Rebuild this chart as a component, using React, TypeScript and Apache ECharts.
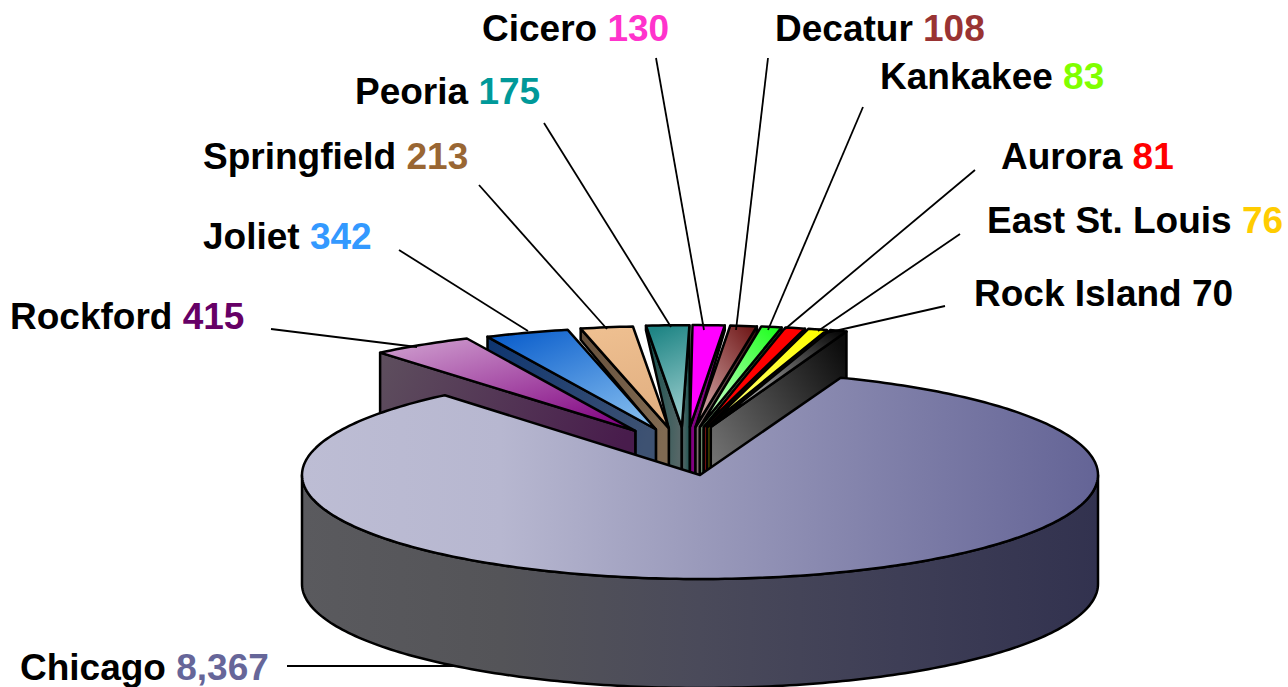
import React, { useEffect, useRef } from "react";
import * as echarts from "echarts";

// Data, in the pie's order starting from its right-hand narrow slice
const cities = ["Rock Island", "East St. Louis", "Aurora", "Kankakee", "Decatur", "Cicero", "Peoria", "Springfield", "Joliet", "Rockford", "Chicago"];
const population = [70, 76, 81, 83, 108, 130, 175, 213, 342, 415, 8367];
const valueColors = ["#000000", "#FFCC00", "#FF0000", "#80FF00", "#993333", "#FF33CC", "#009999", "#996633", "#3399FF", "#660066", "#666699"];

// Top surface gradient [far, near apex]
const topFar = ["#0a0a0a", "#FFFF00", "#FF0000", "#20FF20", "#701818", "#FF00FF", "#1F8585", "#EEBF90", "#0C5FCC", "#CC99CC"];
const topNear = ["#E0E0E0", "#FFFF80", "#FF0000", "#D8FFD8", "#D8B0B0", "#FF00FF", "#A0D0D0", "#E0AE80", "#88C0F0", "#800080"];
// Side wall gradient
const wallFar = ["#0c0c0c", "#777700", "#800000", "#107010", "#3a1010", "#800080", "#0F4F4C", "#66503C", "#0E3570", "#5E4F5E"];
const wallNear = ["#787878", "#999900", "#701010", "#80A080", "#807070", "#800080", "#556666", "#806A52", "#3E5272", "#481C4C"];
// Big slice, left to right
const mainTopStops = ["#BDBDD4", "#B7B7D0", "#9A9ABB", "#7E7EA8", "#646496"];
const mainWallStops = ["#5A5A5E", "#545458", "#4A4A5A", "#3E3E56", "#32324F"];

// Layout of the drawing
const CX = 700, CY = 475, RX = 398, RY_MAIN = 104, RY_SLICE = 102, DEPTH = 109, START = 69.3;
const FONT = "'Liberation Sans', Arial, sans-serif";
const FONT_SIZE = 37;
const labelAnchors = [
  [974, 293], [987, 220], [1001, 156], [880, 76], [775, 28], [482, 28], [355, 91], [203, 156], [203, 236], [10, 316], [20, 667],
];
const leaders = [
  [[945, 306], [826, 333]], [[960, 234], [818, 331]], [[975, 170], [785, 329]], [[863, 107], [768, 330]],
  [[768, 58], [736, 330]], [[656, 58], [704, 330]], [[544, 123], [671, 327]], [[479, 185], [607, 329]],
  [[399, 250], [528, 331]], [[271, 329], [417, 347]], [[287, 666], [470, 666]],
];

const total = population.reduce((a, b) => a + b, 0);
const angles: number[][] = [];
population.reduce((acc, v, i) => {
  const next = acc + (v / total) * 360;
  angles[i] = [acc, next];
  return next;
}, START);

const rad = (d: number) => (d * Math.PI) / 180;
const arcPoint = (ax: number, ay: number, ry: number, t: number, drop = 0) => [
  ax + RX * Math.cos(rad(t)),
  ay - ry * Math.sin(rad(t)) + drop,
];
const arc = (ax: number, ay: number, ry: number, a: number, b: number, drop = 0) => {
  const n = Math.max(2, Math.ceil(Math.abs(b - a)));
  const pts = [];
  for (let k = 0; k <= n; k++) pts.push(arcPoint(ax, ay, ry, a + ((b - a) * k) / n, drop));
  return pts;
};
const grad = (x: number, y: number, x2: number, y2: number, c1: string, c2: string) =>
  new echarts.graphic.LinearGradient(x, y, x2, y2, [
    { offset: 0, color: c1 },
    { offset: 1, color: c2 },
  ]);
const gradStops = (cs: string[]) =>
  new echarts.graphic.LinearGradient(0, 0, 1, 0, cs.map((color, k) => ({ offset: k / (cs.length - 1), color })));
const lineStyle = { stroke: "#000", lineWidth: 2.5, lineJoin: "round" };

const midOf = (i: number) => (angles[i][0] + angles[i][1]) / 2;
// Where a slice's far arc is measured from
const apexX = (i: number) => {
  const m = midOf(i);
  return CX - 1.3 * (m - 75) - Math.max(0, m - 115) * 0.4 + (m > 90 && m < 96 ? 4 : 0);
};
// Where a slice's point actually falls; the narrow slices meet slightly further right
const tipX = (i: number) => apexX(i) + (midOf(i) < 90 ? 5 : 0);
const apexY = (i: number) => CY - 48 + Math.max(0, midOf(i) - 90) * 0.12;
const lastSlice = population.length - 2;

// Draw central slices first, outer ones over them, and the big slice last
const drawOrder = population
  .map((_, i) => i)
  .slice(0, -1)
  .sort((a, b) => Math.abs(midOf(a) - 90) - Math.abs(midOf(b) - 90))
  .concat(population.length - 1);

const renderPiece = (_: any, api: any) => {
  const i = api.value(0);
  const [a, b] = angles[i];
  const children: any[] = [];
  if (i === population.length - 1) {
    const front = arc(CX, CY, RY_MAIN, 180, 360);
    const frontLow = arc(CX, CY, RY_MAIN, 360, 180, DEPTH);
    children.push({
      type: "polygon",
      shape: { points: [...front, ...frontLow] },
      style: { ...lineStyle, fill: gradStops(mainWallStops) },
    });
    children.push({
      type: "polygon",
      shape: { points: [[CX, CY], ...arc(CX, CY, RY_MAIN, a, b)] },
      style: { ...lineStyle, fill: gradStops(mainTopStops) },
    });
    return { type: "group", children };
  }
  const mid = midOf(i);
  const ax = apexX(i);
  const tx = tipX(i);
  const ay = apexY(i);
  const wall = (t: number, gx: number, neighbour: number) => {
    const o = arcPoint(ax, ay, RY_SLICE, t);
    const outermost = neighbour < 0 || neighbour > lastSlice;
    const pts = outermost
      ? [o, [tx, ay], [tx, ay + DEPTH], [o[0], o[1] + DEPTH]]
      : [
          o,
          [tx, ay],
          [tx, ay + DEPTH],
          [tipX(neighbour), ay + DEPTH],
          [tipX(neighbour), ay + 2],
          [o[0], o[1] + Math.abs(Math.cos(rad(t))) * 50],
        ];
    const fill = i === 0
      ? grad(0.9, 0, 0.1, 0.8, wallFar[i], wallNear[i])
      : grad(gx, 0, 1 - gx, 0.35, wallFar[i], wallNear[i]);
    return { type: "polygon", shape: { points: pts }, style: { ...lineStyle, fill } };
  };
  if (b > 90) children.push(wall(b, 0, i + 1));
  if (a < 90) children.push(wall(a, 1, i - 1));
  const dir = mid > 100 ? [0.15, 0, 0.9, 1] : mid < 85 ? [0.9, 0, 0.1, 1] : [0.4, 0, 0.6, 1];
  children.push({
    type: "polygon",
    shape: { points: [[tx, ay], ...arc(ax, ay, RY_SLICE, a, b)] },
    style: { ...lineStyle, fill: grad(dir[0], dir[1], dir[2], dir[3], topFar[i], topNear[i]) },
  });
  return { type: "group", children };
};

export default function App() {
  const ref = useRef<HTMLDivElement>(null);
  useEffect(() => {
    document.body.style.margin = "0";
    const chart = echarts.init(ref.current!, undefined, { renderer: "svg" });
    const last = cities.length - 1;
    const lineEls = leaders.map((l, i) => ({
      type: "line",
      z: i === last ? 0 : 20,
      shape: { x1: l[0][0], y1: l[0][1], x2: l[1][0], y2: l[1][1] },
      style: { stroke: "#000", lineWidth: 1.8 },
    }));
    const labelEls = cities.map((c, i) => ({
      type: "text",
      z: 30,
      x: labelAnchors[i][0],
      y: labelAnchors[i][1],
      style: {
        text: `{n|${c} }{v|${population[i].toLocaleString("en-US")}}`,
        verticalAlign: "middle",
        align: "left",
        rich: {
          n: { fill: "#000", font: `bold ${FONT_SIZE}px ${FONT}` },
          v: { fill: valueColors[i], font: `bold ${FONT_SIZE}px ${FONT}` },
        },
      },
    }));
    chart.setOption({
      animation: false,
      backgroundColor: "#fff",
      graphic: [...lineEls, ...labelEls],
      series: [
        {
          type: "custom",
          coordinateSystem: "none",
          z: 5,
          silent: true,
          clip: false,
          renderItem: renderPiece,
          data: drawOrder.map((i) => [i, population[i]]),
        },
      ],
    });
    return () => chart.dispose();
  }, []);
  return <div ref={ref} style={{ position: "absolute", left: 0, top: 0, width: 1288, height: 687 }} />;
}
